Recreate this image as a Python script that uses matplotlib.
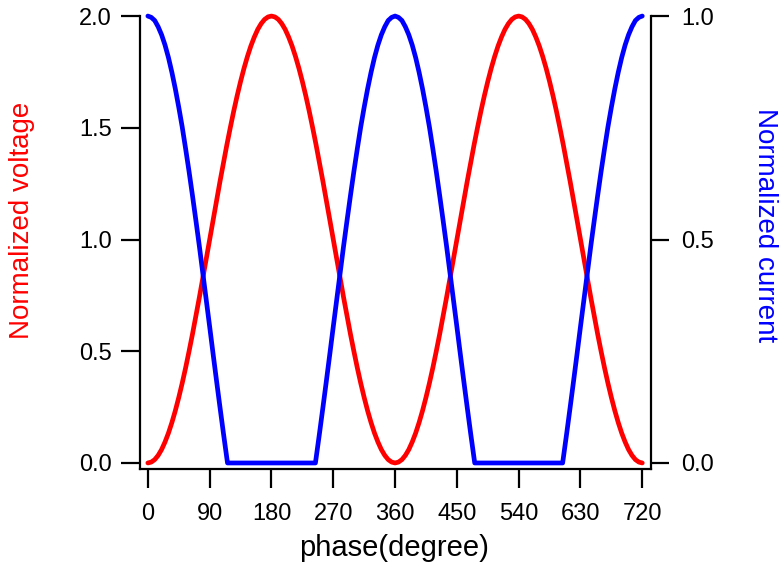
import matplotlib
matplotlib.use("Agg")
import matplotlib.pyplot as plt

plt.rcParams['font.family'] = ['Liberation Sans', 'DejaVu Sans']

# Normalized voltage read every 5 degrees over one rising half-cycle (0..180 deg);
# the picture repeats this rise/fall twice over 0..720 deg
voltage_rise_phase = list(range(0, 181, 5))
voltage_rise = [0.000, 0.004, 0.015, 0.034, 0.060, 0.094, 0.134, 0.181, 0.234,
                0.293, 0.357, 0.426, 0.500, 0.577, 0.658, 0.741, 0.826, 0.913,
                1.000, 1.087, 1.174, 1.259, 1.342, 1.423, 1.500, 1.574, 1.643,
                1.707, 1.766, 1.819, 1.866, 1.906, 1.940, 1.966, 1.985, 1.996, 2.000]

# Normalized current read over its falling part (0..116 deg); zero until 244 deg,
# then the mirrored rise to 1.0 at 360 deg; same again for 360..720 deg
current_fall_phase = [0, 5, 10, 15, 20, 25, 30, 35, 40, 45, 50, 55, 60, 65, 70,
                      75, 80, 85, 90, 95, 100, 105, 110, 115, 116]
current_fall = [1.000, 0.997, 0.990, 0.976, 0.958, 0.935, 0.907, 0.874, 0.837,
                0.796, 0.752, 0.703, 0.652, 0.598, 0.542, 0.485, 0.425, 0.365,
                0.305, 0.244, 0.184, 0.125, 0.067, 0.011, 0.000]

x_ticks = [0, 90, 180, 270, 360, 450, 540, 630, 720]
v_ticks = [0.0, 0.5, 1.0, 1.5, 2.0]
i_ticks = [0.0, 0.5, 1.0]

# assemble the full 0..720 series from the read half-cycles
v_phase, v_vals = [], []
for start in (0, 360):
    for p, v in zip(voltage_rise_phase, voltage_rise):
        if not (start > 0 and p == 0):
            v_phase.append(start + p); v_vals.append(v)
    for p, v in zip(voltage_rise_phase[::-1][1:], voltage_rise[::-1][1:]):
        v_phase.append(start + 360 - p); v_vals.append(v)

c_phase, c_vals = [], []
for start in (0, 360):
    for p, c in zip(current_fall_phase, current_fall):
        if not (start > 0 and p == 0):
            c_phase.append(start + p); c_vals.append(c)
    for p, c in zip(current_fall_phase[::-1], current_fall[::-1]):
        c_phase.append(start + 360 - p); c_vals.append(c)

fig = plt.figure(figsize=(7.8, 5.73), dpi=100)
ax = fig.add_axes([0.179, 0.1815, 0.655, 0.7905])
ax2 = ax.twinx()

ax.plot(v_phase, v_vals, color='#ff0000', lw=3.4, clip_on=False,
        solid_capstyle='round', solid_joinstyle='round', zorder=3)
ax2.plot(c_phase, c_vals, color='#0000ff', lw=3.4, clip_on=False,
         solid_capstyle='round', solid_joinstyle='round', zorder=3)

ax.set_xlim(-12, 732)
ax.set_ylim(-0.027, 2.0)
ax2.set_ylim(-0.0135, 1.0)

ax.set_xticks(x_ticks)
ax.set_xticklabels([str(t) for t in x_ticks])
ax.set_yticks(v_ticks)
ax.set_yticklabels([f"{t:.1f}" for t in v_ticks])
ax2.set_yticks(i_ticks)
ax2.set_yticklabels([f"{t:.1f}" for t in i_ticks])

for s in ['top', 'right']:
    ax.spines[s].set_visible(False)
for s in ['top', 'left', 'bottom']:
    ax2.spines[s].set_visible(False)
for a in (ax, ax2):
    for s in a.spines.values():
        s.set_linewidth(1.6)

ax.tick_params(axis='x', direction='out', length=13.5, width=1.6, labelsize=17, pad=11)
ax.tick_params(axis='y', direction='out', length=14, width=1.6, labelsize=17, pad=6)
ax2.tick_params(axis='y', direction='out', length=13, width=1.6, labelsize=17, pad=9)

fig.text(394 / 780, 1 - 548 / 573, 'phase(degree)', fontsize=21,
         ha='center', va='center')
fig.text(22 / 780, 1 - 220 / 573, 'Normalized voltage', fontsize=20,
         color='#ff0000', rotation=90, ha='center', va='center')
fig.text(765 / 780, 1 - 225 / 573, 'Normalized current', fontsize=20,
         color='#0000ff', rotation=270, ha='center', va='center')

fig.savefig('out.png', dpi=100)
